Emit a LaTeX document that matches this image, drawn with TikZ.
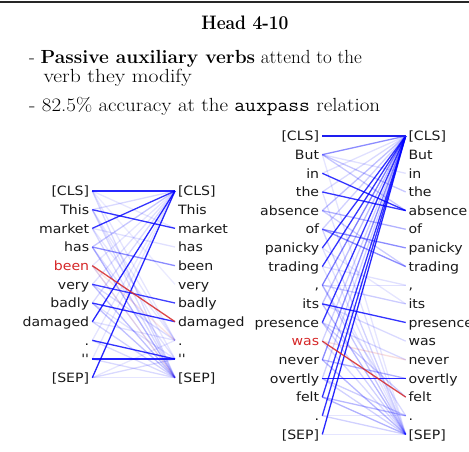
\documentclass[tikz,border=0pt]{standalone}
\usepackage{fontspec}
\usepackage{graphicx}
\newfontfamily\dv{DejaVu Sans}[FakeStretch=1.1]
\definecolor{wordred}{RGB}{214,39,40}
\definecolor{txt}{RGB}{25,25,25}
\definecolor{strongblue}{RGB}{30,30,240}
\begin{document}
\begin{tikzpicture}[x=1pt,y=-1pt,
  word/.style={font=\dv\fontsize{12.8}{14}\selectfont, text=txt, inner sep=0pt},
  lword/.style={word, anchor=base east},
  rword/.style={word, anchor=base west},
  att/.style={draw=blue, line width=1.3pt, draw opacity=#1},
  attred/.style={draw=wordred, line width=1.3pt, draw opacity=#1},
  body/.style={anchor=base west, inner sep=0pt, text=black}]
\useasboundingbox (0,0) rectangle (469,452);
\fill[white] (0,0) rectangle (469,452);
\draw[line width=2.2pt, black!85] (0,2) -- (469,2);

% title and bullets
\node[anchor=base, inner sep=0pt] (title) at (245,30)
  {\resizebox{87pt}{\height}{\fontsize{19.5}{22}\selectfont\bfseries Head 4-10}};
\node[body] (b1) at (29,63.5)
  {\resizebox{332.7pt}{\height}{\fontsize{19}{20}\selectfont - \textbf{Passive auxiliary verbs} attend to the}};
\node[body] (b2) at (43.3,82.5)
  {\resizebox{148.4pt}{\height}{\fontsize{19}{20}\selectfont verb they modify}};
\node[body] (b3) at (29,111)
  {\resizebox{351pt}{\height}{\fontsize{19}{20}\selectfont - 82.5\% accuracy at the \texttt{auxpass} relation}};

% left diagram
\foreach \w [count=\i from 0] in {{[CLS]},This,market,has,been,very,badly,damaged,.,{\symbol{39}\symbol{39}},{[SEP]}}{
  \coordinate (p\i) at (92.3,191+18.67*\i);
  \coordinate (q\i) at (175,191+18.67*\i);
  \node[lword] (pl\i) at (89.3,195.7+18.67*\i) {\ifnum\i=4 \color{wordred}\fi\w};
  \node[rword] (qr\i) at (177.8,195.7+18.67*\i) {\w};
}
% right diagram
\foreach \w [count=\i from 0] in {{[CLS]},But,in,the,absence,of,panicky,trading,{,},its,presence,was,never,overtly,felt,.,{[SEP]}}{
  \coordinate (u\i) at (322.3,136+18.65*\i);
  \coordinate (v\i) at (405.7,136+18.65*\i);
  \node[lword] (ul\i) at (319.3,140.7+18.65*\i) {\ifnum\i=11 \color{wordred}\fi\w};
  \node[rword] (vr\i) at (408.3,140.7+18.65*\i) {\w};
}

% ---- left diagram faint attention
\foreach \a/\b/\o in {0/2/.1,0/8/.1,0/10/.15,0/5/.08,1/0/.15,1/10/.15,1/9/.1,1/8/.1,2/10/.15,2/3/.12,2/8/.1,
  3/0/.22,3/10/.3,3/9/.12,5/10/.25,5/0/.12,5/8/.15,6/10/.25,6/0/.15,6/9/.12,7/10/.18,7/8/.12,
  8/10/.15,8/0/.1,9/10/.15,9/0/.1,10/10/.1,10/9/.15,10/8/.1,4/0/.1,4/10/.12}
  {\draw[att=\o] (p\a) -- (q\b);}
\draw[attred=.12] (p4) -- (q8);
\draw[attred=.1] (p4) -- (q10);
% ---- left diagram strong attention
\draw[att=.85] (p0) -- (q0);
\draw[att=.8] (p1) -- (q2);
\draw[att=.8] (p2) -- (q0);
\draw[att=.45] (p3) -- (q4);
\draw[att=.75] (p5) -- (q6);
\draw[att=.8] (p6) -- (q7);
\draw[att=.85] (p7) -- (q0);
\draw[att=.8] (p8) -- (q9);
\draw[att=.85] (p9) -- (q9);
\draw[att=.85] (p10) -- (q0);
\draw[attred=.85] (p4) -- (q7);

% ---- right diagram faint attention
\foreach \a/\b/\o in {1/2/.12,1/3/.22,1/4/.22,4/5/.3,4/7/.2,4/0/.25,5/0/.18,9/0/.25,11/0/.18,13/0/.18,
  1/16/.1,3/16/.12,5/16/.18,6/16/.12,8/16/.22,9/16/.28,10/16/.18,12/16/.28,13/16/.18,14/16/.3,15/16/.18,
  8/9/.2,8/15/.15,8/8/.12,9/11/.15,10/12/.15,10/14/.2,12/13/.3,13/15/.2,14/15/.28,15/15/.1,
  2/0/.12,3/0/.15,7/16/.1,11/16/.15,16/16/.1,6/9/.1,7/8/.12}
  {\draw[att=\o] (u\a) -- (v\b);}
\draw[attred=.15] (u11) -- (v12);
% ---- right diagram strong attention
\draw[att=.45] (u1) -- (v0);
\draw[att=.8] (u2) -- (v4);
\draw[att=.8] (u3) -- (v4);
\draw[att=.45] (u5) -- (v6);
\draw[att=.45] (u5) -- (v7);
\draw[att=.8] (u6) -- (v0);
\draw[att=.8] (u7) -- (v0);
\draw[att=.5] (u8) -- (v0);
\draw[att=.8] (u9) -- (v10);
\draw[att=.8] (u10) -- (v0);
\draw[att=.45] (u12) -- (v0);
\draw[att=.85] (u13) -- (v13);
\draw[att=.8] (u14) -- (v0);
\draw[att=.8] (u15) -- (v0);
\draw[att=.85] (u16) -- (v0);
\draw[attred=.85] (u11) -- (v14);
\draw[draw=strongblue, line width=1.5pt] (u0) -- (v0);
\end{tikzpicture}
\end{document}
